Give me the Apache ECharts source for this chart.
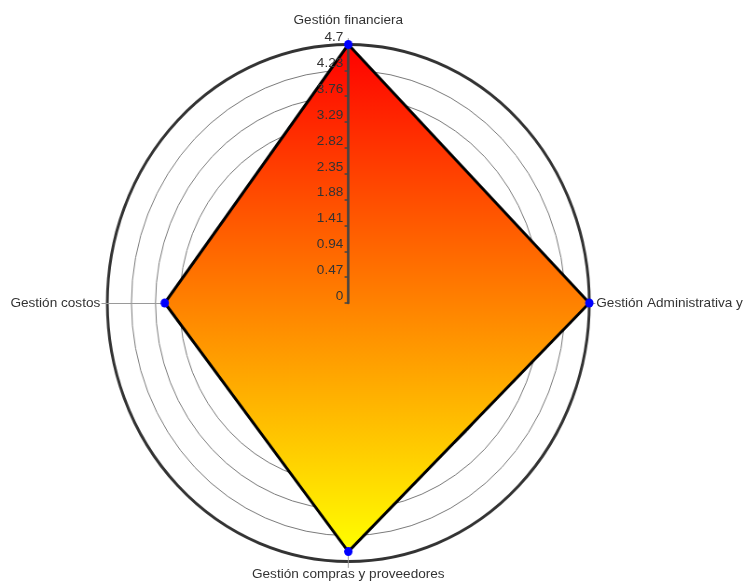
<!DOCTYPE html>
<html>
<head>
<meta charset="utf-8">
<script src="https://cdn.jsdelivr.net/npm/echarts@6/dist/echarts.min.js"></script>
<style>
  html, body { margin: 0; padding: 0; background: #ffffff; }
  #wrap { position: relative; width: 746px; height: 582px; overflow: hidden; }
  #base { position: absolute; left: 0; top: 0; height: 582px; transform-origin: 0 0; }
  #labels { position: absolute; left: 0; top: 0; width: 746px; height: 582px; pointer-events: none; }
</style>
</head>
<body>
<div id="wrap">
  <div id="base"></div>
  <div id="labels"></div>
</div>
<script>
// Indicators in ECharts order (counter-clockwise from the top)
const indicatorNames = ['Gestión financiera', 'Gestión costos', 'Gestión compras y proveedores', 'Gestión Administrativa y'];
const scores = [4.7, 3.58, 4.52, 4.7];
const axisMax = 4.7;
const tickCount = 10; // ticks every 0.47

// The plot is a slightly flattened circle: horizontal radius / vertical radius
const RX = 241, RY = 258.5;
const CX = 348.3, CY = 303;
const SX = RX / RY;
const FONT = "'Liberation Sans', Arial, sans-serif";
const TEXT = '#333333';
const FS = 13.6;

const baseEl = document.getElementById('base');
const baseW = Math.ceil(746 / SX) + 1;
baseEl.style.width = baseW + 'px';
baseEl.style.transform = 'scaleX(' + SX + ')';
const bcx = CX / SX;

const fullIndicators = indicatorNames.map(n => ({ name: n, max: axisMax, min: 0 }));
const noAxis = { show: false };

const base = echarts.init(baseEl, null, { renderer: 'canvas' });
base.setOption({
  animation: false,
  radar: [
    { // concentric rings
      center: [bcx, CY], radius: RY, startAngle: 90, shape: 'circle',
      splitNumber: tickCount, indicator: fullIndicators, z: 0,
      axisName: { show: false },
      axisLine: noAxis, axisTick: noAxis, axisLabel: noAxis,
      splitArea: { show: false },
      splitLine: { show: true, lineStyle: { color: '#7a7a7a', width: 1 } }
    },
    { // outer ring
      center: [bcx, CY], radius: RY, startAngle: 90, shape: 'circle',
      splitNumber: 1, indicator: indicatorNames.map(() => ({ max: 1, min: 0 })), z: 0,
      axisName: { show: false },
      axisLine: noAxis, axisTick: noAxis, axisLabel: noAxis,
      splitArea: { show: false },
      splitLine: { show: true, lineStyle: { color: '#333333', width: 3 } }
    },
    { // thin spokes running out to the names
      center: [bcx, CY], radius: RY + 6, startAngle: 90, shape: 'circle',
      indicator: indicatorNames.map(() => ({ max: 1, min: 0 })), z: 0,
      axisName: { show: false },
      axisLine: { show: true, lineStyle: { color: '#9a9a9a', width: 1 } },
      axisTick: noAxis, axisLabel: noAxis,
      splitArea: { show: false }, splitLine: { show: false }
    },
    { // value axis on top of the area, ticks to the left
      center: [bcx, CY], radius: RY, startAngle: 90, shape: 'circle',
      splitNumber: tickCount, indicator: [{ max: axisMax, min: 0 }], z: 5,
      axisName: { show: false },
      axisLine: { show: true, lineStyle: { color: '#444444', width: 2.7 } },
      axisTick: { show: true, length: 4, lineStyle: { color: '#444444', width: 1.5 } },
      axisLabel: noAxis,
      splitArea: { show: false }, splitLine: { show: false }
    },
    { // ticks to the right
      center: [bcx, CY], radius: RY, startAngle: 90, shape: 'circle',
      splitNumber: tickCount, indicator: [{ max: axisMax, min: 0 }], z: 5,
      axisName: { show: false },
      axisLine: noAxis,
      axisTick: { show: true, inside: true, length: 4, lineStyle: { color: '#444444', width: 1.5 } },
      axisLabel: noAxis,
      splitArea: { show: false }, splitLine: { show: false }
    }
  ],
  series: [
    { // gradient area
      type: 'radar', radarIndex: 0, z: 2, symbol: 'none',
      lineStyle: { width: 0, opacity: 0 },
      areaStyle: {
        opacity: 1,
        color: new echarts.graphic.LinearGradient(0, 0, 0, 1, [
          { offset: 0, color: '#ff0000' },
          { offset: 1, color: '#ffff00' }
        ])
      },
      data: [{ value: scores }]
    },
    { // black outline
      type: 'radar', radarIndex: 0, z: 3, symbol: 'none',
      lineStyle: { color: '#000000', width: 3 },
      data: [{ value: scores }]
    },
    { // blue markers
      type: 'radar', radarIndex: 0, z: 8, symbol: 'circle', symbolSize: 9,
      itemStyle: { color: '#0000ff' },
      lineStyle: { width: 0, opacity: 0 },
      data: [{ value: scores }]
    }
  ]
});

// Names and tick labels, drawn without the horizontal squeeze
const nameStyle = { color: TEXT, fontSize: FS, fontFamily: FONT };
function nameRadar(radius, gap, names) {
  return {
    center: [CX, CY], radius: radius, startAngle: 90, shape: 'circle',
    indicator: names.map(n => ({ name: n, max: axisMax, min: 0 })),
    axisNameGap: gap,
    axisName: Object.assign({ show: true }, nameStyle),
    axisLine: noAxis, axisTick: noAxis, axisLabel: noAxis,
    splitArea: { show: false }, splitLine: { show: false }
  };
}
const labels = echarts.init(document.getElementById('labels'), null, { renderer: 'canvas' });
labels.setOption({
  animation: false,
  radar: [
    nameRadar(RY, 17, [indicatorNames[0], '', '', '']),
    nameRadar(RX, 7, ['', indicatorNames[1], '', indicatorNames[3]]),
    nameRadar(RY, 6, ['', '', indicatorNames[2], '']),
    {
      center: [CX, CY], radius: RY, startAngle: 90, shape: 'circle',
      splitNumber: tickCount, indicator: [{ max: axisMax, min: 0 }],
      axisName: { show: false },
      axisLine: noAxis, axisTick: noAxis,
      axisLabel: {
        show: true, margin: 5, color: TEXT, fontSize: FS, fontFamily: FONT,
        verticalAlign: 'bottom',
        formatter: v => String(+v.toFixed(2))
      },
      splitArea: { show: false }, splitLine: { show: false }
    }
  ]
});
</script>
</body>
</html>
